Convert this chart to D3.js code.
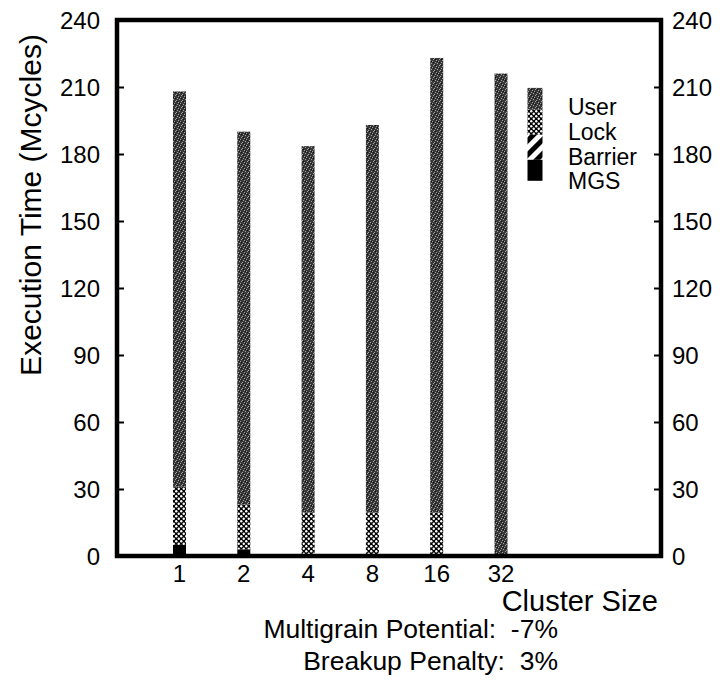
<!DOCTYPE html>
<html><head><meta charset="utf-8">
<script src="https://cdn.jsdelivr.net/npm/d3@7/dist/d3.min.js"></script>
<style>body{margin:0;background:#fff}svg{display:block}text{font-family:"Liberation Sans",Arial,Helvetica,sans-serif;fill:#000}</style>
</head><body><svg id="c" width="727" height="683"></svg>
<script>
const categories = ["1","2","4","8","16","32"];
const mgs     = [5, 3, 0, 0, 0, 0];
const barrier = [0, 0, 0, 0, 0, 0];
const lock    = [26, 20, 19.5, 19.5, 19.5, 0];
const user    = [177, 167, 164, 173.5, 203.5, 216];
const yTicks = [0,30,60,90,120,150,180,210,240];
const seriesNames = ["MGS","Barrier","Lock","User"];
const legendLabels = ["User","Lock","Barrier","MGS"];
const legendValues = [9.8, 11.2, 11.2, 9.4];   // legend swatch segment heights (Mcycles units)
const legendTop = 209.6;

const svg = d3.select("#c");
const L = 117, R = 661, T = 20, B = 556;
const y = d3.scaleLinear().domain([0,240]).range([B,T]);
const x = d3.scalePoint().domain(categories).range([179.5, 501]);
const legendX = 535;
const bw = 13;

// patterns
const defs = svg.append("defs");
const pu = defs.append("pattern").attr("id","pUser").attr("patternUnits","userSpaceOnUse").attr("width",6).attr("height",6);
pu.append("rect").attr("width",6).attr("height",6).attr("fill","#383838");
[[0,1],[2,4],[4,0],[5,3],[1,5],[3,2]].forEach(([a,b])=>pu.append("rect").attr("x",a).attr("y",b).attr("width",1).attr("height",1).attr("fill","#a0a0a0"));
[[1,2],[3,5],[5,1]].forEach(([a,b])=>pu.append("rect").attr("x",a).attr("y",b).attr("width",1).attr("height",1).attr("fill","#111"));
const pl = defs.append("pattern").attr("id","pLock").attr("patternUnits","userSpaceOnUse").attr("width",5).attr("height",5);
pl.append("rect").attr("width",5).attr("height",5).attr("fill","#000");
pl.append("circle").attr("cx",1.25).attr("cy",1.25).attr("r",1.2).attr("fill","#fff");
pl.append("circle").attr("cx",3.75).attr("cy",3.75).attr("r",1.2).attr("fill","#fff");
const pb = defs.append("pattern").attr("id","pBar").attr("patternUnits","userSpaceOnUse").attr("width",10).attr("height",10).attr("patternTransform","rotate(45)");
pb.append("rect").attr("width",10).attr("height",10).attr("fill","#fff");
pb.append("rect").attr("width",5).attr("height",10).attr("fill","#000");
const fills = {MGS:"#000", Barrier:"url(#pBar)", Lock:"url(#pLock)", User:"url(#pUser)"};

// stacked bars
const rows = categories.map((c,i)=>({cat:c, MGS:mgs[i], Barrier:barrier[i], Lock:lock[i], User:user[i]}));
const stack = d3.stack().keys(seriesNames)(rows);
stack.forEach(s=>{
  svg.append("g").selectAll("rect").data(s).join("rect")
    .attr("x", d=>x(d.data.cat)-bw/2).attr("width", bw)
    .attr("y", d=>y(d[1])).attr("height", d=>Math.max(0,y(d[0])-y(d[1])))
    .attr("fill", fills[s.key]);
});

// legend swatch
let cum = legendTop;
legendLabels.forEach((name,i)=>{
  const top = cum, bot = cum - legendValues[i];
  svg.append("rect").attr("x", legendX-bw/2-1).attr("width", bw+2)
    .attr("y", y(top)).attr("height", y(bot)-y(top)).attr("fill", fills[name]);
  cum = bot;
});
const legendBase = [115, 140, 165, 189];
legendLabels.forEach((n,i)=>svg.append("text").attr("x",568).attr("y",legendBase[i]).attr("font-size",23).text(n));

// frame
svg.append("path").attr("d",`M${L},${B}V${T}H${R}V${B}Z`).attr("fill","none").attr("stroke","#000").attr("stroke-width",4.5);

// axes (inward ticks)
const yl = svg.append("g").attr("transform",`translate(${L},0)`)
  .call(d3.axisRight(y).tickValues(yTicks).tickSize(7).tickFormat(""));
yl.select(".domain").remove();
yl.selectAll("line").attr("stroke-width",2);
const yr = svg.append("g").attr("transform",`translate(${R},0)`)
  .call(d3.axisLeft(y).tickValues(yTicks).tickSize(7).tickFormat(""));
yr.select(".domain").remove();
yr.selectAll("line").attr("stroke-width",2);
yTicks.forEach(v=>{
  svg.append("text").attr("x",100).attr("y",y(v)+9).attr("text-anchor","end").attr("font-size",24).text(v);
  svg.append("text").attr("x",672).attr("y",y(v)+9).attr("text-anchor","start").attr("font-size",24).text(v);
});
categories.forEach(c=>svg.append("text").attr("x",x(c)).attr("y",582).attr("text-anchor","middle").attr("font-size",24).text(c));

svg.append("text").attr("transform",`translate(41,205) rotate(-90)`).attr("text-anchor","middle").attr("font-size",30).text("Execution Time (Mcycles)");
svg.append("text").attr("x",658).attr("y",611).attr("text-anchor","end").attr("font-size",29).text("Cluster Size");
svg.append("text").attr("x",558).attr("y",638).attr("text-anchor","end").attr("font-size",26.5).style("white-space","pre").text("Multigrain Potential:  -7%");
svg.append("text").attr("x",558).attr("y",670).attr("text-anchor","end").attr("font-size",26.5).style("white-space","pre").text("Breakup Penalty:  3%");
</script></body></html>
